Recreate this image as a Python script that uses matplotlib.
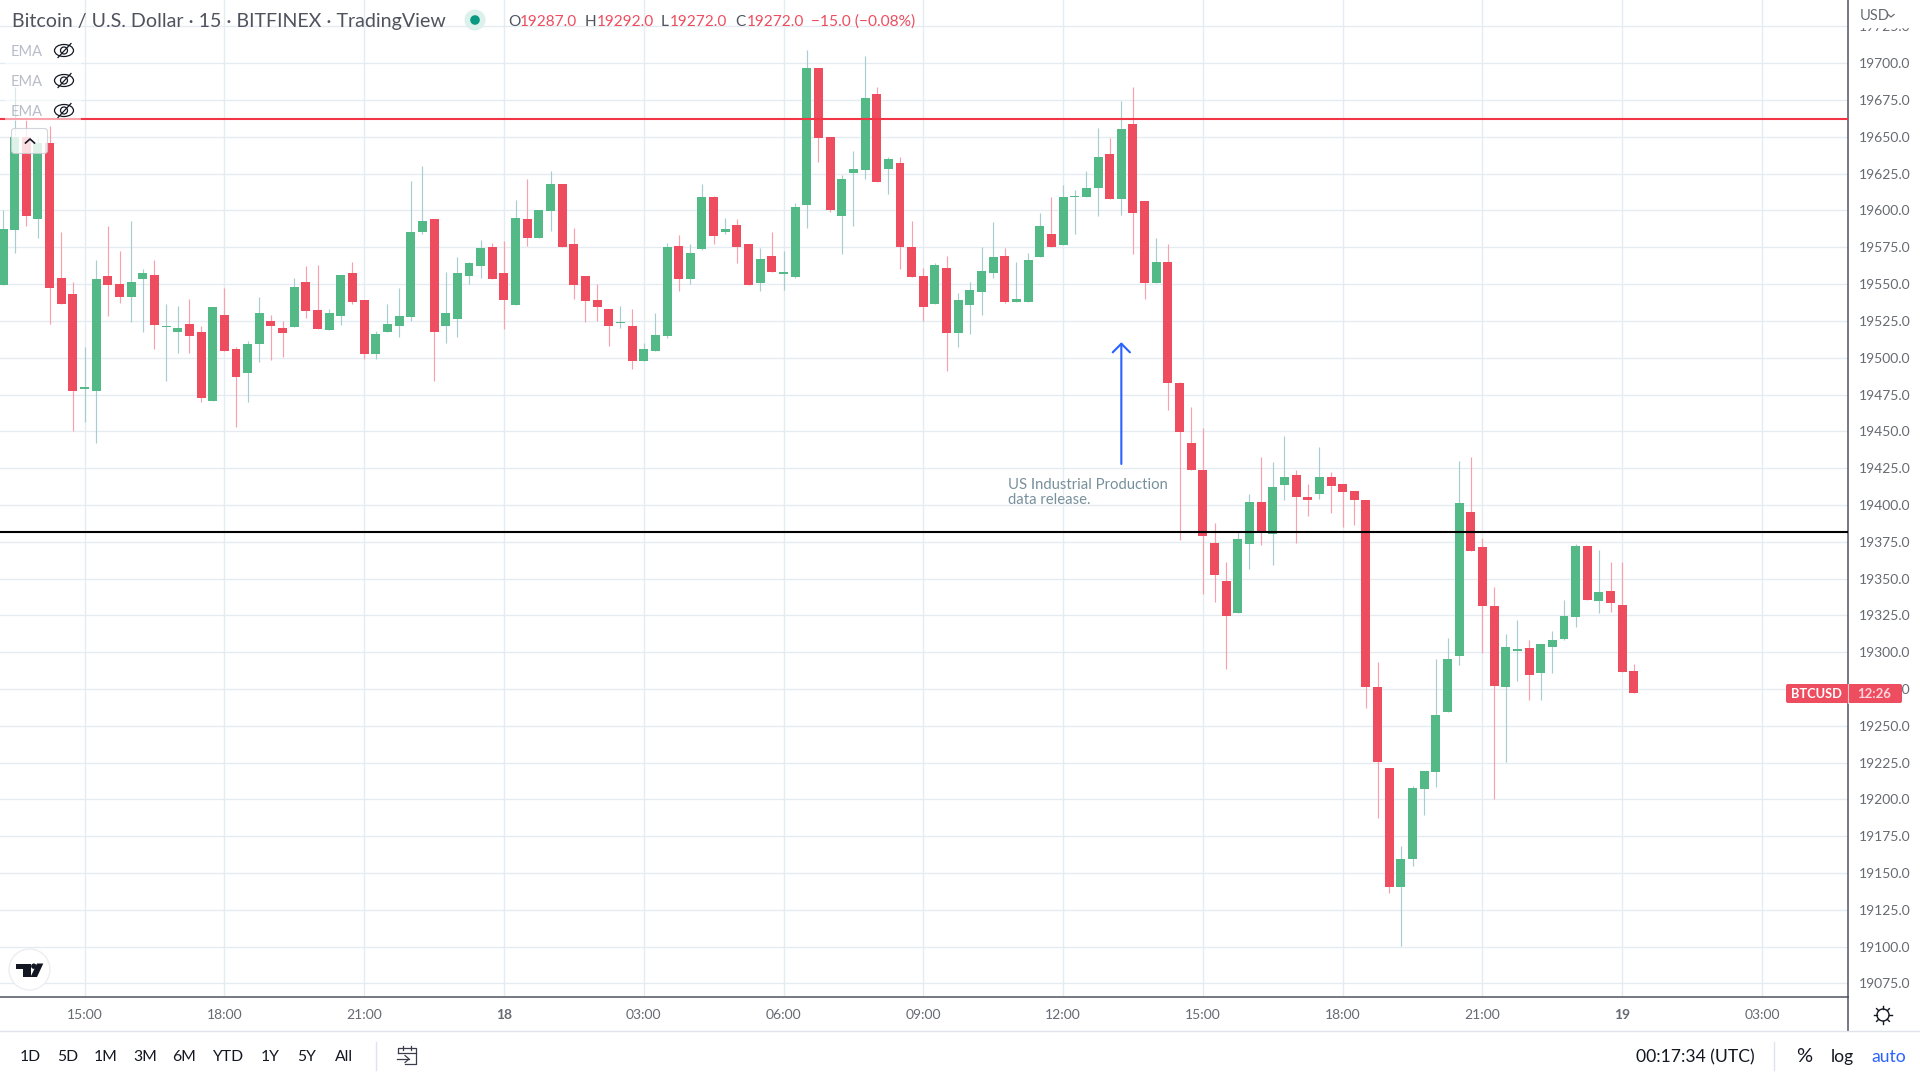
import numpy as np
import matplotlib
matplotlib.use("Agg")
import matplotlib.pyplot as plt
from matplotlib.patches import Circle, Ellipse, FancyBboxPatch, Polygon, Rectangle

plt.rcParams['font.family'] = ['Lato', 'DejaVu Sans']

# 15 minute candles
opens = [19549.5, 19587, 19650, 19594, 19646, 19554, 19543, 19479, 19477.5, 19555.5,
         19550, 19541.5, 19553.5, 19556, 19521, 19517.5, 19523, 19517.5, 19470.5, 19529,
         19506, 19489.5, 19509.5, 19525, 19520, 19521, 19551.5, 19532.5, 19519, 19528.5,
         19557.5, 19539, 19502.5, 19517.5, 19521.5, 19527.5, 19585.5, 19594, 19521.5, 19526.5,
         19555.5, 19562.5, 19575, 19557.5, 19536, 19594, 19581.5, 19599.5, 19618, 19577.5,
         19555.5, 19539, 19533, 19523.5, 19521.5, 19498, 19504.5, 19515, 19576, 19553.5,
         19574, 19609, 19585.5, 19590, 19577.5, 19551, 19569, 19557, 19555, 19604,
         19697, 19650, 19596.5, 19625.5, 19627.5, 19679, 19628, 19632.5, 19575, 19555.5,
         19536.5, 19561, 19517, 19536, 19544.5, 19557.5, 19569, 19538, 19538, 19568.5,
         19584, 19576.5, 19609, 19609.5, 19615.5, 19638.5, 19608, 19658.5, 19606.5, 19551,
         19565, 19482.5, 19442, 19423.5, 19374, 19348, 19326.5, 19373.5, 19402, 19380,
         19413.5, 19420.5, 19405.5, 19407.5, 19419, 19414.5, 19409.5, 19403.5, 19276, 19221.5,
         19140.5, 19159.5, 19207, 19218.5, 19259, 19297.5, 19395.5, 19371.5, 19331.5, 19276,
         19301, 19302.5, 19286, 19303.5, 19309, 19324, 19372, 19335, 19341.5, 19332,
         19287]
highs = [19600.5, 19684, 19661.5, 19650, 19657.5, 19585.5, 19551.5, 19507.5, 19566.5, 19589.5,
         19572.5, 19593, 19560.5, 19566.5, 19536.5, 19535, 19540, 19521.5, 19534.5, 19547.5,
         19507.5, 19511.5, 19541.5, 19529, 19525, 19554, 19562.5, 19563, 19533, 19556,
         19565, 19539, 19518, 19536.5, 19547.5, 19620, 19630.5, 19594, 19558, 19568.5,
         19565, 19580, 19578, 19579.5, 19607, 19621.5, 19600.5, 19627, 19618, 19588,
         19555.5, 19550, 19533, 19535, 19533, 19510, 19530.5, 19578, 19583.5, 19577.5,
         19618, 19610, 19595, 19594, 19577.5, 19574.5, 19585.5, 19572.5, 19605, 19709,
         19697, 19650, 19624, 19640.5, 19705, 19684, 19636.5, 19636.5, 19593, 19561,
         19564.5, 19569, 19544, 19551.5, 19575, 19592.5, 19574.5, 19565, 19571, 19598.5,
         19609.5, 19617.5, 19614, 19626.5, 19656, 19649.5, 19674.5, 19684, 19606.5, 19581.5,
         19577.5, 19483.5, 19466.5, 19452, 19387.5, 19361, 19381.5, 19407.5, 19432.5, 19429,
         19446.5, 19423.5, 19414.5, 19439.5, 19422.5, 19414.5, 19409.5, 19403.5, 19293.5, 19221.5,
         19168.5, 19209, 19219.5, 19295.5, 19309.5, 19429.5, 19432.5, 19377.5, 19344.5, 19312,
         19321.5, 19308.5, 19305.5, 19314.5, 19335.5, 19373.5, 19372, 19369.5, 19361.5, 19361.5,
         19292]
lows = [19549.5, 19571, 19589.5, 19581, 19523, 19536.5, 19450, 19456.5, 19442, 19528.5,
        19537, 19524.5, 19517.5, 19506, 19484, 19503, 19503, 19470, 19470.5, 19504.5,
        19453, 19470, 19497, 19498.5, 19500.5, 19521, 19527, 19519.5, 19519, 19522,
        19536.5, 19499, 19499, 19517.5, 19514, 19525, 19584, 19484, 19510, 19514,
        19550, 19554, 19553.5, 19519.5, 19536, 19576, 19581.5, 19586, 19575, 19540,
        19524.5, 19525, 19508, 19520, 19492.5, 19498, 19504.5, 19513.5, 19545.5, 19550,
        19573, 19577.5, 19584, 19564.5, 19549.5, 19545.5, 19558, 19546, 19554, 19588,
        19633, 19599, 19570.5, 19589.5, 19621.5, 19619.5, 19611, 19560.5, 19555, 19525,
        19536.5, 19491, 19507.5, 19516, 19529, 19554, 19537, 19538, 19538, 19568.5,
        19575.5, 19576.5, 19584, 19609.5, 19596.5, 19607.5, 19597, 19570.5, 19540, 19551,
        19464.5, 19376, 19424, 19339.5, 19334, 19288.5, 19326.5, 19356.5, 19372.5, 19359.5,
        19403.5, 19374, 19392.5, 19404, 19394.5, 19385, 19386.5, 19262, 19187, 19136.5,
        19100.5, 19155, 19189.5, 19208.5, 19259, 19291.5, 19369, 19299.5, 19200.5, 19225.5,
        19280.5, 19267.5, 19267.5, 19285.5, 19308.5, 19317, 19335.5, 19326.5, 19327.5, 19286.5,
        19272]
closes = [19587.5, 19650, 19596.5, 19646, 19547.5, 19536.5, 19477.5, 19480, 19553.5, 19549.5,
          19541.5, 19551.5, 19557.5, 19522, 19521.5, 19520, 19515, 19472.5, 19534.5, 19504.5,
          19487, 19509.5, 19530.5, 19521.5, 19517, 19548, 19531.5, 19519.5, 19530.5, 19556,
          19538, 19502.5, 19516, 19523, 19528.5, 19585.5, 19593, 19517.5, 19530.5, 19557.5,
          19564.5, 19574.5, 19553.5, 19539, 19595, 19581.5, 19600.5, 19618, 19575, 19549.5,
          19538.5, 19534.5, 19521.5, 19524.5, 19498, 19506, 19515.5, 19575, 19553.5, 19571,
          19609, 19582.5, 19587.5, 19575, 19549.5, 19567, 19558, 19558, 19602.5, 19697,
          19649.5, 19600.5, 19621.5, 19628, 19676.5, 19619.5, 19635, 19575, 19555, 19534.5,
          19563, 19517, 19539.5, 19546, 19559, 19568.5, 19538, 19540, 19566.5, 19589.5,
          19575.5, 19609.5, 19610, 19615.5, 19636.5, 19608, 19655.5, 19598, 19551, 19565,
          19483, 19449.5, 19424, 19379, 19352.5, 19324.5, 19376.5, 19402, 19382, 19412.5,
          19419, 19405.5, 19403, 19419, 19413, 19409, 19403, 19276, 19225.5, 19140.5,
          19159.5, 19208, 19219.5, 19257.5, 19295, 19401, 19369, 19331.5, 19277, 19303.5,
          19302, 19284.5, 19305.5, 19308.5, 19324.5, 19372, 19335.5, 19340.5, 19333.5, 19286.5,
          19272]

xtick_pos = [7, 19, 31, 43, 55, 67, 79, 91, 103, 115, 127, 139, 151]
xtick_labels = ["15:00", "18:00", "21:00", "18", "03:00", "06:00", "09:00",
                "12:00", "15:00", "18:00", "21:00", "19", "03:00"]
ytick_vals = np.arange(19075, 19726, 25)

resistance = 19662.4
support = 19381.5
arrow_x = 96
arrow_tip = 19510.5
arrow_base = 19427.8

range_buttons = ["1D", "5D", "1M", "3M", "6M", "YTD", "1Y", "5Y", "All"]
range_button_x = [30, 68, 106, 145, 184, 228, 270, 307, 344]

RED = "#ee4d5f"
GREEN = "#53b987"
RED_WICK = "#f7a1af"
GREEN_WICK = "#a9cdcf"
GRID = "#e4ecf2"
AXIS = "#50535e"
TICK = "#666a72"
DARK = "#131722"

fig = plt.figure(figsize=(19.2, 10.8), dpi=100)
ax = fig.add_axes([0, (1080 - 997.0) / 1080, 1848.0 / 1920, 997.0 / 1080])

opens = np.array(opens)
closes = np.array(closes)
bar_x = np.arange(len(opens))
up = closes >= opens

ax.vlines(bar_x[up], np.array(lows)[up], np.array(highs)[up], color=GREEN_WICK, lw=0.85, zorder=2)
ax.vlines(bar_x[~up], np.array(lows)[~up], np.array(highs)[~up], color=RED_WICK, lw=0.85, zorder=2)
ax.bar(bar_x[up], (closes - opens)[up], bottom=opens[up], width=0.77, color=GREEN, zorder=3)
ax.bar(bar_x[~up], (closes - opens)[~up], bottom=opens[~up], width=0.77, color=RED, zorder=3)

ax.axhline(resistance, color="#f23645", lw=1.5, zorder=4)
ax.axhline(support, color="black", lw=1.5, zorder=4)

ax.annotate("", xy=(arrow_x, arrow_tip), xytext=(arrow_x, arrow_base),
            arrowprops=dict(arrowstyle="->,head_length=0.62,head_width=0.62", color="#2962ff", lw=1.5,
                            shrinkA=0, shrinkB=0), zorder=4)

ax.set_xlim(-0.26, 158.38)
ax.set_ylim(19065.7, 19743)
ax.set_xticks(xtick_pos)
ax.set_xticklabels(xtick_labels, fontsize=10, color=TICK)
for lbl, txt in zip(ax.get_xticklabels(), xtick_labels):
    if ":" not in txt:
        lbl.set_fontweight("bold")
ax.yaxis.tick_right()
ax.set_yticks(ytick_vals)
ax.set_yticklabels(["{:.1f}".format(v) for v in ytick_vals], fontsize=10, color=TICK)
ax.tick_params(axis="x", length=0, pad=8.5)
ax.tick_params(axis="y", length=0, pad=8)
ax.grid(True, color=GRID, lw=1)
ax.set_axisbelow(True)
ax.spines['top'].set_visible(False)
ax.spines['left'].set_visible(False)
ax.spines['right'].set_color(AXIS)
ax.spines['bottom'].set_color(AXIS)
ax.spines['right'].set_linewidth(1.1)
ax.spines['bottom'].set_linewidth(1.1)

# everything below is page furniture, placed in screen pixels
ui = fig.add_axes([0, 0, 1, 1], zorder=5)
ui.set_xlim(0, 1920)
ui.set_ylim(1080, 0)
ui.axis("off")
ui.patch.set_alpha(0)

ui.text(1008, 485, "US Industrial Production", fontsize=10.7, color="#78909c", va="center")
ui.text(1008, 500, "data release.", fontsize=10.7, color="#78909c", va="center")

# clips the 19725 label under the currency cell
ui.add_patch(Rectangle((1850, 0), 70, 27, color="white", zorder=1))
ui.text(1860, 16.5, "USD", fontsize=10.5, color=TICK, va="center")
ui.plot([1888, 1891, 1894], [14.5, 17, 14.5], color=TICK, lw=0.9)

# legend
ui.text(12, 22, "Bitcoin / U.S. Dollar \u00b7 15 \u00b7 BITFINEX \u00b7 TradingView", fontsize=14.1, color="#50535e", va="center")
ui.add_patch(Circle((475, 20), 10.5, color="#dcf1ec", lw=0))
ui.add_patch(Circle((475, 20), 4.8, color="#089981", lw=0))
for lx, label, vx, val in [(508, "O", 520, "19287.0"), (585, "H", 597, "19292.0"),
                           (661, "L", 670, "19272.0"), (735, "C", 747, "19272.0")]:
    ui.text(lx, 22, label, fontsize=11.1, color="#50535e", va="center")
    ui.text(vx, 22, val, fontsize=11.1, color=RED, va="center")
ui.text(811, 22, "\u221215.0 (\u22120.08%)", fontsize=11.2, color=RED, va="center")

ui.add_patch(Rectangle((5, 36), 76, 85, color="white", alpha=0.55, lw=0))
for ey in [50, 80, 110]:
    ui.text(11, ey + 1.5, "EMA", fontsize=10.5, color="#b8bcc8", va="center")
    ui.add_patch(Ellipse((64, ey + 0.5), 19, 12, fill=False, ec=DARK, lw=0.9))
    ui.add_patch(Circle((64, ey + 0.5), 3.5, fill=False, ec=DARK, lw=0.9))
    ui.plot([58, 71], [ey + 7.5, ey - 6.5], color=DARK, lw=0.9)

ui.add_patch(FancyBboxPatch((13, 130), 33, 22, boxstyle="round,pad=1.5,rounding_size=3",
                            fc="white", ec="#c9cbd3", alpha=0.82, lw=0.8))
ui.plot([25.5, 30, 34.5], [143, 139, 143], color=DARK, lw=1.2)

# logo
ui.add_patch(Circle((29.5, 969.5), 20.5, fc="white", ec="#eceef2", lw=1))
ui.add_patch(Polygon([(16, 963.5), (31, 963.5), (31, 977), (23, 977), (23, 969), (16, 969)], color=DARK, lw=0))
ui.add_patch(Circle((33.8, 966.2), 2.7, color=DARK, lw=0))
ui.add_patch(Polygon([(37, 963.5), (43.3, 963.5), (37, 977), (30.5, 977)], color=DARK, lw=0))

# price tag
ui.add_patch(FancyBboxPatch((1788, 686), 112, 15, boxstyle="round,pad=2,rounding_size=2", color=RED, lw=0))
ui.plot([1847.5, 1847.5], [684, 703], color="#f9c5cc", lw=0.8)
ui.text(1816.5, 694, "BTCUSD", fontsize=9.3, color="white", fontweight="bold", ha="center", va="center")
ui.text(1874, 694, "12:26", fontsize=9.5, color="#fdd5da", fontweight="bold", ha="center", va="center")

# bottom strip
ui.plot([1848.3, 1848.3], [997, 1031], color=AXIS, lw=1.1)
ui.plot([0, 1920], [1031, 1031], color="#e0e3eb", lw=1)
for bx, label in zip(range_button_x, range_buttons):
    ui.text(bx, 1057, label, fontsize=11.3, color=DARK, ha="center", va="center")
ui.plot([375.7, 375.7], [1042, 1070], color="#e0e3eb", lw=1)
ui.plot([1774.3, 1774.3], [1042, 1070], color="#e0e3eb", lw=1)

# calendar icon
ui.plot([398, 398, 416, 416, 405], [1053, 1048, 1048, 1064, 1064], color="#3a3e4a", lw=0.9)
ui.plot([398, 416], [1052.5, 1052.5], color="#3a3e4a", lw=0.9)
ui.plot([403, 403], [1046, 1050], color="#3a3e4a", lw=0.9)
ui.plot([411, 411], [1046, 1050], color="#3a3e4a", lw=0.9)
ui.plot([397, 409], [1059, 1059], color="#3a3e4a", lw=0.9)
ui.plot([405, 409, 405], [1055.5, 1059, 1062.5], color="#3a3e4a", lw=0.9)

ui.text(1695, 1057, "00:17:34 (UTC)", fontsize=12.6, color=DARK, ha="center", va="center")
ui.text(1804, 1057, "%", fontsize=14.5, color=DARK, ha="center", va="center")
ui.text(1842, 1057, "log", fontsize=12.6, color=DARK, ha="center", va="center")
ui.text(1889, 1057, "auto", fontsize=12.6, color="#2962ff", ha="center", va="center")

# gear
ui.add_patch(Circle((1883, 1015), 6, fill=False, ec=DARK, lw=1))
for a in np.arange(8) * np.pi / 4:
    ui.plot([1883 + 6 * np.cos(a), 1883 + 9 * np.cos(a)], [1015 + 6 * np.sin(a), 1015 + 9 * np.sin(a)], color=DARK, lw=1)
ui.set_xlim(0, 1920)
ui.set_ylim(1080, 0)

fig.savefig("out.png", dpi=100)
